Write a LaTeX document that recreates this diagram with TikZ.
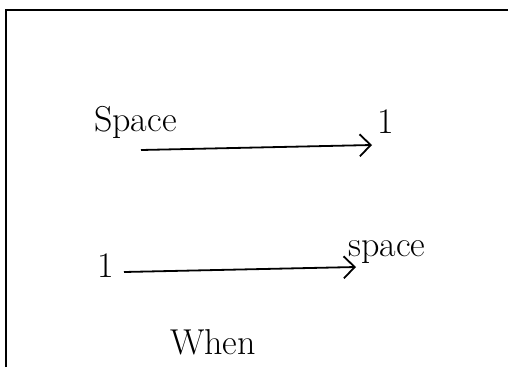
\documentclass[tikz,border=0pt]{standalone}
\usetikzlibrary{arrows.meta, positioning}

\begin{document}
\begin{tikzpicture}[x=1pt,y=-1pt]
 \tikzstyle{word}=[inner sep=0pt,font=\fontsize{36}{40}\selectfont]
 \tikzstyle{flow}=[-{Straight Barb[length=11pt,width=22pt]},line width=1.8pt]
 \useasboundingbox (0,0) rectangle (508,367);
 \draw[line width=2pt] (6,367) -- (6,10) -- (508,10);
 % top row
 \node (spacetop) [word,anchor=base west] at (94,131) {Space};
 \node (onetop) [word,anchor=base] at (386,133) {1};
 \coordinate (starttop) at (141,150);
 \coordinate (endtop) at (372,145);
 \draw[flow] (starttop) -- (endtop);
 % bottom row
 \node (onebot) [word,anchor=base] at (106,277) {1};
 \node (spacebot) [word,anchor=base west] at (348,256) {space};
 \coordinate (startbot) at (124,272);
 \coordinate (endbot) at (356,267);
 \draw[flow] (startbot) -- (endbot);
 \node (when) [word,anchor=base west] at (170,354) {When};
\end{tikzpicture}
\end{document}
